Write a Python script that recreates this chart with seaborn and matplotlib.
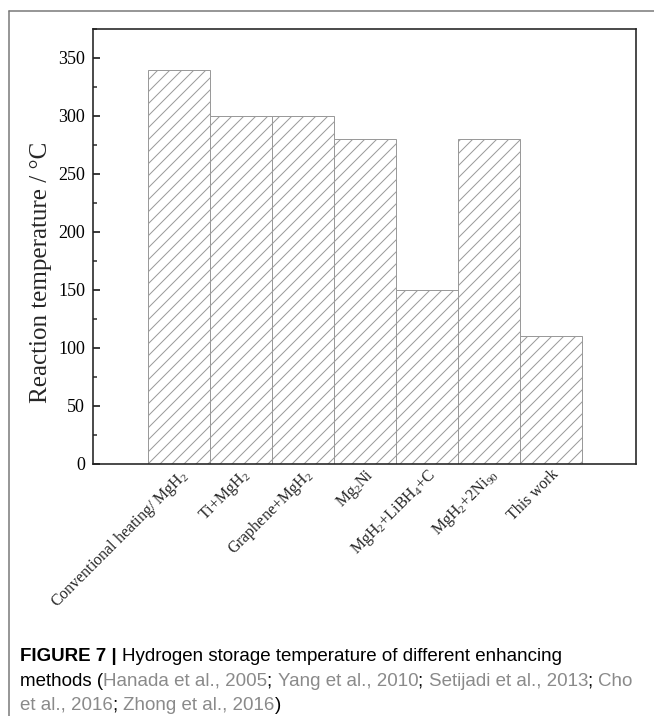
import matplotlib
matplotlib.use("Agg")
import matplotlib.pyplot as plt
from matplotlib.lines import Line2D
from matplotlib.ticker import MultipleLocator
import seaborn as sns
import pandas as pd

methods = ["Conventional heating/ MgH$_2$", "Ti+MgH$_2$", "Graphene+MgH$_2$", "Mg$_2$Ni",
           "MgH$_2$+LiBH$_4$+C", "MgH$_2$+2Ni$_{90}$", "This work"]
temps = [340, 300, 300, 280, 150, 280, 110]
yticks = [0, 50, 100, 150, 200, 250, 300, 350]

df = pd.DataFrame({"method": methods, "temp": temps})

sns.set_style("ticks")
plt.rcParams["font.family"] = ["Liberation Serif", "DejaVu Serif"]
plt.rcParams["mathtext.fontset"] = "custom"
plt.rcParams["mathtext.rm"] = "Liberation Serif"
plt.rcParams["mathtext.default"] = "regular"
plt.rcParams["hatch.linewidth"] = 1.0

W, H = 654, 716
fig = plt.figure(figsize=(W / 72, H / 72), dpi=72)
ax = fig.add_axes([93 / W, 1 - 464 / H, (636 - 93) / W, (464 - 29) / H])

sns.barplot(data=df, x="method", y="temp", color="white", edgecolor="#9a9a9a",
            hatch="//", linewidth=1.0, width=1.0, ax=ax)

ax.set_xlim(-1.39, 7.37)
ax.set_ylim(0, 375)
ax.set_yticks(yticks)
ax.yaxis.set_minor_locator(MultipleLocator(25))
ax.tick_params(axis="y", which="major", direction="in", length=7, width=1.5,
               labelsize=18, pad=8, colors="black")
ax.tick_params(axis="y", which="minor", direction="in", length=4, width=1.5)
ax.tick_params(axis="x", length=0, pad=2, labelsize=16)
for lab in ax.get_xticklabels():
    lab.set_rotation(45)
    lab.set_ha("right")
    lab.set_rotation_mode("anchor")
for s in ax.spines.values():
    s.set_linewidth(1.6)
    s.set_color("#222222")
ax.set_xlabel("")
ax.set_ylabel("Reaction temperature / °C", fontsize=25)
ax.yaxis.set_label_coords(-0.076, 0.44)

# frame lines of the figure panel
fig.add_artist(Line2D([9 / W, 1], [1 - 11 / H, 1 - 11 / H], color="#777777", lw=1.5,
                      transform=fig.transFigure))
fig.add_artist(Line2D([9 / W, 9 / W], [1 - 11 / H, 0], color="#777777", lw=1.5,
                      transform=fig.transFigure))

# caption, drawn piece by piece so colours can change within a line
renderer = fig.canvas.get_renderer()
cap_font = ["Liberation Sans", "DejaVu Sans"]
gray = "#8a8a8a"
lines = [
    [("FIGURE 7 | ", "black", "bold"), ("Hydrogen storage temperature of different enhancing", "black", "normal")],
    [("methods (", "black", "normal"), ("Hanada et al., 2005", gray, "normal"), ("; ", "black", "normal"),
     ("Yang et al., 2010", gray, "normal"), ("; ", "black", "normal"),
     ("Setijadi et al., 2013", gray, "normal"), ("; ", "black", "normal"), ("Cho", gray, "normal")],
    [("et al., 2016", gray, "normal"), ("; ", "black", "normal"), ("Zhong et al., 2016", gray, "normal"),
     (")", "black", "normal")],
]
baselines = [661, 686, 710]
for pieces, yb in zip(lines, baselines):
    x = 20
    for txt, col, wt in pieces:
        t = fig.text(x / W, 1 - yb / H, txt, color=col, fontweight=wt, fontsize=18.8,
                     family=cap_font, va="baseline", ha="left")
        x += t.get_window_extent(renderer).width

fig.savefig("out.png", dpi=72)
